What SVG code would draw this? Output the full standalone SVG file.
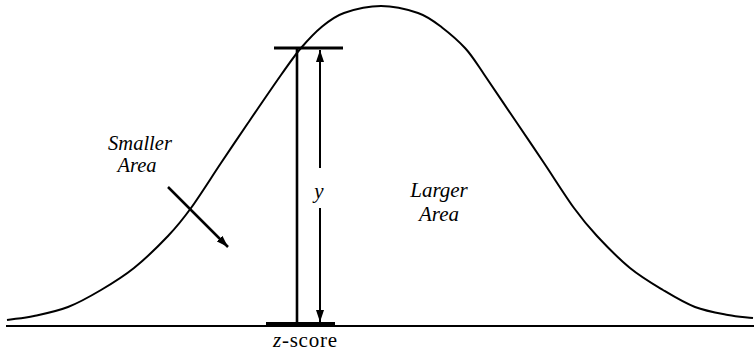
<svg xmlns="http://www.w3.org/2000/svg" width="754" height="354" viewBox="0 0 754 354">
<style>
.ln{stroke:#000;fill:none}
.lbl{font-family:'Liberation Serif','Times New Roman','DejaVu Serif',serif;font-style:italic;fill:#000}
.zs{font-family:'Liberation Serif','Times New Roman','DejaVu Serif',serif;fill:#000}
</style>
<defs>
<marker id="ah" markerUnits="userSpaceOnUse" viewBox="0 0 12 8" refX="12" refY="4" markerWidth="12" markerHeight="8" orient="auto-start-reverse">
<path d="M0,0 L12,4 L0,8 z" fill="#000"/>
</marker>
</defs>
<rect width="754" height="354" fill="#fff"/>
<g id="curve">
<path class="ln" stroke-width="2" d="M7 320 C16 318.67,23.83 318.17,34 316 C44.17 313.83,56.83 311.33,68 307 C79.17 302.67,90 296.5,101 290 C112 283.5,122.83 277,134 268 C145.17 259,158.5 246,168 236 C177.5 226,182.17 220.17,191 208 C199.83 195.83,211.5 177.17,221 163 C230.5 148.83,238 137.67,248 123 C258 108.33,271.5 88.5,281 75 C290 62.5,294.5 55.5,301 48 C307.5 40.5,313.67 33.5,321 27.5 C328.33 21.5,334 16.5,344 13 C354 9.5,368.67 6,381 6 C393.33 6,407.83 9.5,418 13 C428.17 16.5,434.17 21.5,442 27.5 C449.83 33.5,458 40.5,465 48 C472 55.5,476 62.5,484.5 75 C493 87.5,507 108.33,517 123 C527 137.67,534.5 148.83,544 163 C553.5 177.17,565.17 195.83,574 208 C582.83 220.17,587.67 226,597 236 C606.33 246,619 259,630 268 C641 277,652.17 283.5,663 290 C673.83 296.5,684.17 302.83,695 307 C705.83 311.17,718.33 313.17,728 315 C737.67 316.83,744.67 317,753 318"/>
</g>
<g id="axis">
<line class="ln" x1="6" y1="326" x2="754" y2="326" stroke-width="2"/>
</g>
<g id="ordinate">
<line class="ln" x1="297" y1="48" x2="297" y2="323" stroke-width="2.6"/>
<line class="ln" x1="274" y1="48" x2="343" y2="48" stroke-width="3"/>
<line class="ln" x1="266" y1="324" x2="335" y2="324" stroke-width="4"/>
</g>
<g id="connectors">
<line class="ln" x1="320" y1="168" x2="320" y2="50" stroke-width="2" marker-end="url(#ah)"/>
<line class="ln" x1="320" y1="208" x2="320" y2="322" stroke-width="2" marker-end="url(#ah)"/>
<line class="ln" x1="168" y1="187" x2="228" y2="247" stroke-width="2.5" marker-end="url(#ah)"/>
</g>
<g id="label-y">
<text class="lbl" x="319" y="198" font-size="21" text-anchor="middle">y</text>
</g>
<g id="label-smaller">
<text class="lbl" x="140" y="150" font-size="20.5" text-anchor="middle">Smaller</text>
<text class="lbl" x="137" y="172" font-size="20.5" text-anchor="middle">Area</text>
</g>
<g id="label-larger">
<text class="lbl" x="439" y="197" font-size="21" text-anchor="middle">Larger</text>
<text class="lbl" x="439" y="221" font-size="21" text-anchor="middle">Area</text>
</g>
<g id="label-z">
<text class="zs" x="305" y="347" font-size="21" text-anchor="middle" textLength="64" lengthAdjust="spacing"><tspan font-style="italic">z</tspan>-score</text>
</g>
</svg>
